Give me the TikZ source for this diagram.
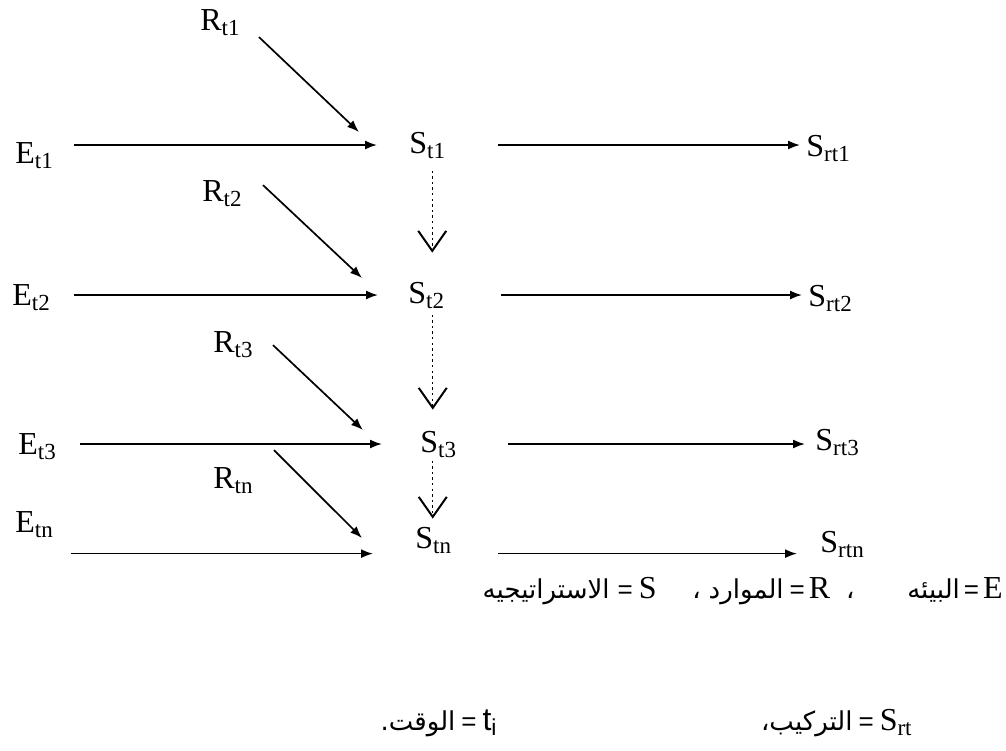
\documentclass[tikz,border=0pt]{standalone}
\usepackage{fontspec}
\setmainfont{Liberation Serif}
\newfontfamily\arabicfont[Script=Arabic]{DejaVu Sans}
\newfontfamily\arialfont{Liberation Sans}
\TeXXeTstate=1
\usetikzlibrary{arrows.meta,calc}

\newcommand{\sbs}[1]{\raisebox{-2.5pt}{\fontsize{11.5}{12}\selectfont #1}}
\newcommand{\ar}[1]{{\fontsize{13}{15}\arabicfont\beginR #1\endR}}
\newcommand{\eqsign}{{\fontsize{13}{15}\arialfont =}}

\tikzset{
  lbl/.style={inner sep=0pt, anchor=base west, font=\fontsize{16}{19}\selectfont},
  legend/.style={inner sep=0pt, anchor=base east, font=\fontsize{16}{19}\selectfont},
  arr/.style={-{Latex[length=6pt,width=4.5pt]}, line width=0.85pt},
  vline/.style={dash pattern=on 1.2pt off 1.6pt, line width=0.6pt,
    -{Straight Barb[length=10pt,width=14pt,line width=1pt]}}
}

\begin{document}
\begin{tikzpicture}[x=0.5pt,y=-0.5pt]
\useasboundingbox (0,0) rectangle (1006,750);
% resources, environment, strategy, structure
\node[lbl] (r1) at (200,30) {R\sbs{t1}};
\node[lbl] (e1) at (15,163) {E\sbs{t1}};
\node[lbl] (s1) at (409,153) {S\sbs{t1}};
\node[lbl] (sr1) at (806,156) {S\sbs{rt1}};
\node[lbl] (r2) at (202,201) {R\sbs{t2}};
\node[lbl] (e2) at (12,305) {E\sbs{t2}};
\node[lbl] (s2) at (408,303) {S\sbs{t2}};
\node[lbl] (sr2) at (808,306) {S\sbs{rt2}};
\node[lbl] (r3) at (213,352) {R\sbs{t3}};
\node[lbl] (e3) at (18,454) {E\sbs{t3}};
\node[lbl] (s3) at (420,452) {S\sbs{t3}};
\node[lbl] (sr3) at (815,450) {S\sbs{rt3}};
\node[lbl] (rn) at (213,488) {R\sbs{tn}};
\node[lbl] (en) at (15,532) {E\sbs{tn}};
\node[lbl] (sn) at (415,548) {S\sbs{tn}};
\node[lbl] (srn) at (820,552) {S\sbs{rtn}};

% environment -> strategy
\draw[arr,shorten <=10.5pt,shorten >=16pt] (e1.east |- s1.west) -- (s1.west);
\draw[arr,shorten <=12pt,shorten >=15pt] (e2.east |- s2.west) -- (s2.west);
\draw[arr,shorten <=12pt,shorten >=19pt] (e3.east |- s3.west) -- (s3.west);
\draw[arr,shorten <=9pt,shorten >=21pt] (en.east |- sn.south) -- (sn.south west);

% strategy -> structure
\draw[arr,shorten <=26.5pt,shorten >=3pt] (s1.east) -- (s1.east -| sr1.west);
\draw[arr,shorten <=28.5pt,shorten >=3pt] (s2.east) -- (s2.east -| sr2.west);
\draw[arr,shorten <=26pt,shorten >=5pt] (s3.east) -- (s3.east -| sr3.west);
\draw[arr,shorten <=23.5pt,shorten >=11.5pt] (sn.south east) -- (sn.south east -| srn.west);

% resources -> strategy
\draw[arr] ($(r1.east)+(19,15)$) -- ($(s1.west)+(-50,-13)$);
\draw[arr] ($(r2.east)+(21,-8)$) -- ($(s2.west)+(-46,-17)$);
\draw[arr] ($(r3.east)+(20,1)$) -- ($(s3.west)+(-57,-14)$);
\draw[arr] ($(rn.east)+(21,-30)$) -- ($(sn.west)+(-53,-2)$);

% strategy over time
\draw[vline] (s1.south) ++(5,12) -- ++(0,82);
\draw[vline] (s2.south) ++(6.5,6) -- ++(0,95);
\draw[vline] (s3.south) ++(-5.5,3) -- ++(0,58);

% key
\node[legend] (le) at (1003,598) {\ar{البيئه}\hspace{2pt}\eqsign\hspace{2pt}E};
\node[legend] (lr) at (855,598) {\ar{،}\hspace{4pt}\ar{الموارد}\hspace{3pt}\eqsign\hspace{2pt}R\hspace{8pt}\ar{،}};
\node[legend] (ls) at (657,598) {\ar{الاستراتيجيه}\hspace{4pt}\eqsign\hspace{3pt}S};
\node[legend] (lsr) at (912,730) {\ar{التركيب،}\hspace{3pt}\eqsign\hspace{3pt}S\sbs{rt}};
\node[legend] (lt) at (497,730) {\ar{الوقت.}\hspace{3pt}\eqsign\hspace{3pt}{\arialfont t\sbs{i}}};
\end{tikzpicture}
\end{document}
